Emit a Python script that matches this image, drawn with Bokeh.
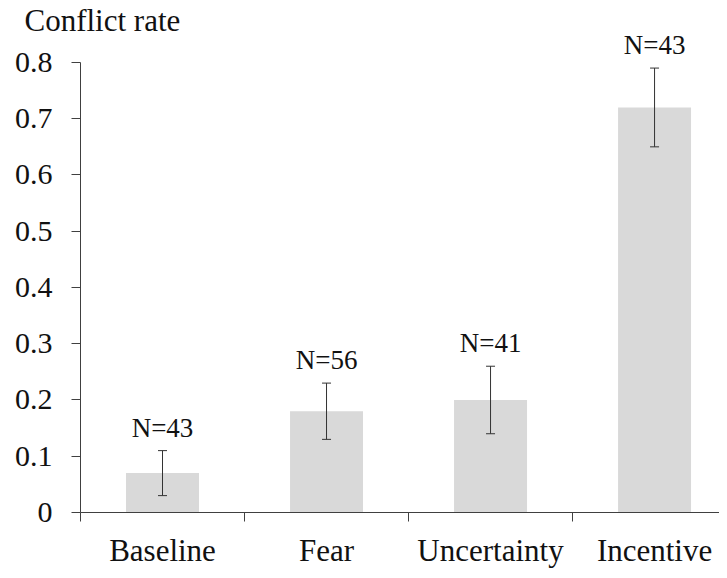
from bokeh.plotting import figure
from bokeh.models import ColumnDataSource, FixedTicker, Whisker, LabelSet, Title, Range1d
from bokeh.core.properties import value
from bokeh.embed import file_html
from bokeh.resources import INLINE

categories = ["Baseline", "Fear", "Uncertainty", "Incentive"]
rates = [0.07, 0.18, 0.20, 0.72]
lower = [0.03, 0.13, 0.14, 0.65]
upper = [0.11, 0.23, 0.26, 0.79]
n_labels = ["N=43", "N=56", "N=41", "N=43"]
y_ticks = [0, 0.1, 0.2, 0.3, 0.4, 0.5, 0.6, 0.7, 0.8]

xs = list(range(len(categories)))
src = ColumnDataSource(dict(x=xs, top=rates, lower=lower, upper=upper, n=n_labels))

FONT = "Liberation Serif"
AXIS_COLOR = "#404040"
TEXT_COLOR = "#111111"

p = figure(width=719, height=570, output_backend="svg", toolbar_location=None,
           x_range=Range1d(-0.5, 3.396), y_range=Range1d(0, 0.871),
           min_border_left=80, min_border_right=0, min_border_bottom=57, min_border_top=22)
p.title = Title(text="Conflict rate", align="left", offset=-56,
                text_font=FONT, text_font_size="31px", text_font_style="normal",
                text_color=TEXT_COLOR, standoff=-31)
p.outline_line_color = None
p.grid.visible = False
p.background_fill_color = "white"
p.border_fill_color = "white"

p.vbar(x="x", top="top", bottom=0, width=0.445, source=src,
       fill_color="#d9d9d9", line_color=None)

wh = Whisker(base="x", upper="upper", lower="lower", source=src,
             line_color="#333333", line_width=1, level="overlay")
wh.upper_head.size = 9
wh.lower_head.size = 9
wh.upper_head.line_color = "#333333"
wh.lower_head.line_color = "#333333"
p.add_layout(wh)

labels = LabelSet(x="x", y="upper", text="n", source=src, y_offset=14,
                  text_align="center", text_baseline="alphabetic",
                  text_font=value(FONT), text_font_size=value("27px"), text_color=TEXT_COLOR)
p.add_layout(labels)

# x axis
p.xaxis.ticker = FixedTicker(ticks=xs, minor_ticks=[-0.5, 0.5, 1.5, 2.5, 3.5])
p.xaxis.major_label_overrides = {i: c for i, c in enumerate(categories)}
p.xaxis.major_tick_out = 0
p.xaxis.major_tick_in = 0
p.xaxis.minor_tick_out = 9
p.xaxis.minor_tick_in = 0
p.xaxis.minor_tick_line_color = AXIS_COLOR
p.xaxis.axis_line_color = AXIS_COLOR
p.xaxis.major_label_text_font = FONT
p.xaxis.major_label_text_font_size = "31px"
p.xaxis.major_label_text_color = TEXT_COLOR
p.xaxis.major_label_standoff = 11

# y axis
p.yaxis.ticker = FixedTicker(ticks=y_ticks, minor_ticks=[])
p.yaxis.bounds = (0, 0.8)
p.yaxis.major_label_overrides = {0: "0"}
p.yaxis.major_tick_out = 9
p.yaxis.major_tick_in = 0
p.yaxis.major_tick_line_color = AXIS_COLOR
p.yaxis.axis_line_color = AXIS_COLOR
p.yaxis.major_label_text_font = FONT
p.yaxis.major_label_text_font_size = "30px"
p.yaxis.major_label_text_color = TEXT_COLOR
p.yaxis.major_label_standoff = 19

open("out.html", "w").write(file_html(p, INLINE))
